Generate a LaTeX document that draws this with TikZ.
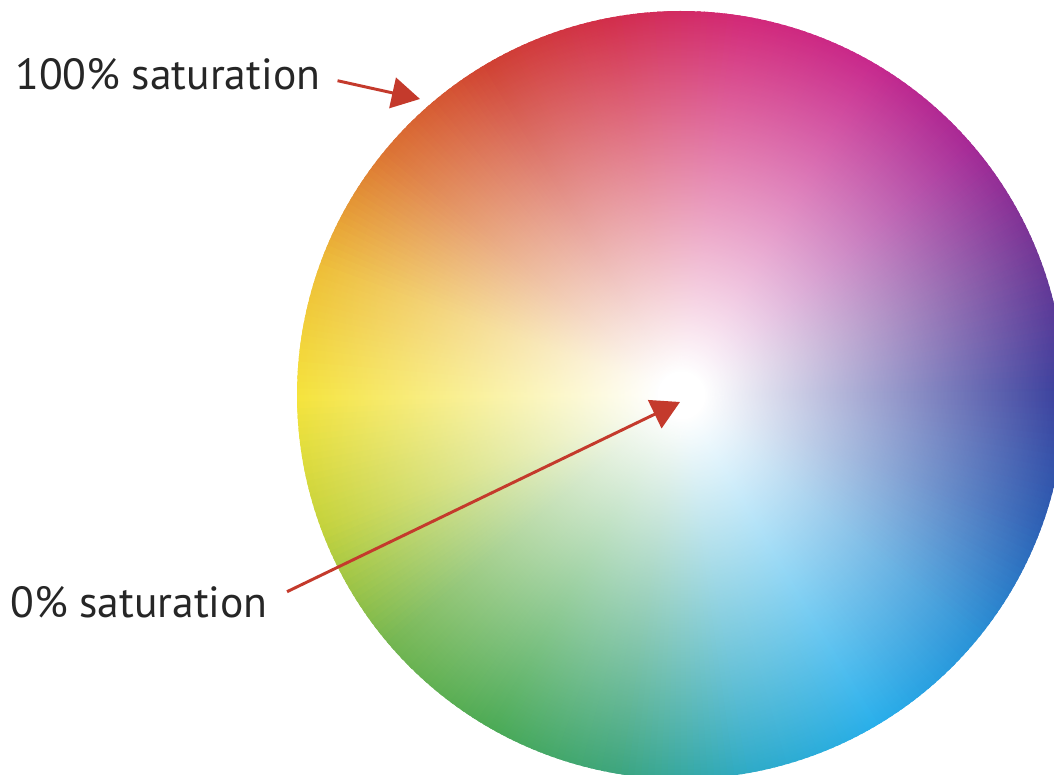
\documentclass[tikz,border=0pt]{standalone}
\usepackage{fontspec}
\setmainfont{PT Sans}
\usetikzlibrary{arrows.meta,calc,fadings}

% radial fade: opaque white in the middle, clear at the rim
\pgfdeclareradialshading{satshade}{\pgfpointorigin}{color(0bp)=(white); color(1.5bp)=(white); color(25bp)=(black); color(50bp)=(black)}
\pgfdeclarefading{satfade}{\pgfuseshading{satshade}}

% rim hues, every 20 degrees from the right
\definecolor{hA}{RGB}{55,60,155}
\definecolor{hB}{RGB}{110,55,150}
\definecolor{hC}{RGB}{165,40,150}
\definecolor{hD}{RGB}{200,40,140}
\definecolor{hE}{RGB}{210,40,120}
\definecolor{hF}{RGB}{210,45,75}
\definecolor{hG}{RGB}{208,65,50}
\definecolor{hH}{RGB}{220,115,50}
\definecolor{hI}{RGB}{238,190,55}
\definecolor{hJ}{RGB}{245,228,60}
\definecolor{hK}{RGB}{195,210,60}
\definecolor{hL}{RGB}{115,182,80}
\definecolor{hM}{RGB}{75,170,85}
\definecolor{hN}{RGB}{60,165,125}
\definecolor{hO}{RGB}{45,170,200}
\definecolor{hP}{RGB}{40,175,235}
\definecolor{hQ}{RGB}{40,145,215}
\definecolor{hR}{RGB}{45,95,180}
\definecolor{ptrred}{RGB}{196,58,44}

\begin{document}
\begin{tikzpicture}[x=0.025cm,y=0.025cm,
  lbl/.style={font=\fontsize{31}{36}\selectfont,text=black!85,inner sep=0pt,anchor=base west},
  ptr/.style={draw=ptrred,line width=2.1pt,-{Triangle[length=20pt,width=22pt]}}]
  \useasboundingbox (0,0) rectangle (1054,775);
  \clip (0,0) rectangle (1054,775);
  \coordinate (wc) at (681,380);
  % hue wedges
  \foreach \a/\ca/\cb in {0/hA/hB,20/hB/hC,40/hC/hD,60/hD/hE,80/hE/hF,100/hF/hG,
    120/hG/hH,140/hH/hI,160/hI/hJ,180/hJ/hK,200/hK/hL,220/hL/hM,240/hM/hN,
    260/hN/hO,280/hO/hP,300/hP/hQ,320/hQ/hR,340/hR/hA}{
    \foreach \s in {0,...,19}{
      \pgfmathtruncatemacro\p{5*\s}
      \fill[\cb!\p!\ca] (wc) -- ++(\a+\s:384) arc[start angle=\a+\s,end angle=\a+\s+1.6,radius=384] -- cycle;
    }
  }
  % white centre
  \fill[white,path fading=satfade] (wc) circle[radius=384];
  % labels
  \node[lbl] (sat100) at (15,685) {100\% saturation};
  \node[lbl] (sat0) at (10,157) {0\% saturation};
  \coordinate (rim) at (420,676);
  \coordinate (mid) at (680,373);
  \draw[ptr] ($(sat100.east)+(17,-6)$) -- (rim);
  \draw[ptr] ($(sat0.east)+(19,11)$) -- (mid);
\end{tikzpicture}
\end{document}
